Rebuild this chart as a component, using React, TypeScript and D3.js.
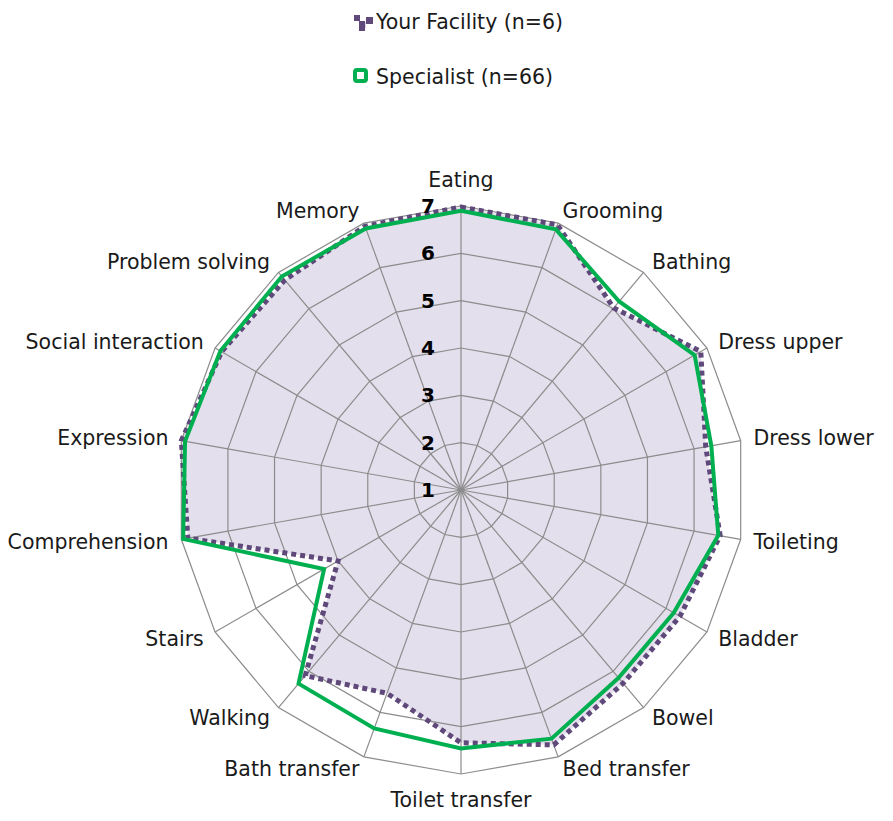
import React from 'react';
import * as d3 from 'd3';

const categories = [
  'Eating', 'Grooming', 'Bathing', 'Dress upper', 'Dress lower', 'Toileting',
  'Bladder', 'Bowel', 'Bed transfer', 'Toilet transfer', 'Bath transfer', 'Walking',
  'Stairs', 'Comprehension', 'Expression', 'Social interaction', 'Problem solving', 'Memory',
];
const facility = [6.98, 6.96, 6.02, 6.85, 6.25, 6.56, 6.34, 6.33, 6.73, 6.34, 5.57, 6.12, 4.0, 6.86, 7.0, 6.84, 6.79, 6.93];
const specialist = [6.9, 6.86, 6.2, 6.7, 6.37, 6.52, 6.19, 6.18, 6.59, 6.46, 6.36, 6.34, 4.34, 6.96, 6.92, 6.87, 6.89, 6.88];
const ticks = [1, 2, 3, 4, 5, 6, 7];
const seriesNames = ['Your Facility (n=6)', 'Specialist (n=66)'];

const W = 893;
const H = 821;
const cx = 461;
const cy = 490;
const R = 284;
const FONT = '"DejaVu Sans", "Open Sans", sans-serif';
const PURPLE = '#5f497a';
const GREEN = '#00b050';
const GRID = '#8c8c8c';
const FS = 20.5;

const App = () => {
  const r = d3.scaleLinear().domain([1, 7]).range([0, R]);
  const n = categories.length;
  const angle = (i: number) => (i * 2 * Math.PI) / n;

  const radial = d3
    .lineRadial<number>()
    .angle((_, i) => angle(i))
    .radius((d) => r(d))
    .curve(d3.curveLinearClosed);

  const ring = (v: number) => radial(categories.map(() => v)) || '';

  return (
    <div style={{ position: 'absolute', left: 0, top: 0 }}>
      <svg width={W} height={H} style={{ display: 'block' }} fontFamily={FONT}>
        {/* legend */}
        <g>
          <rect x={354} y={15} width={6} height={6} fill={PURPLE} />
          <rect x={360} y={22} width={6} height={6} fill="#d9d3e3" />
          <rect x={359} y={21} width={6} height={10} fill={PURPLE} />
          <rect x={366} y={17} width={7} height={7} fill={PURPLE} />
          <text x={376} y={22} fontSize={FS} dominantBaseline="central" fill="#1a1a1a">
            {seriesNames[0]}
          </text>
          <rect x={355} y={70} width={11} height={11} rx={2} fill="none" stroke={GREEN} strokeWidth={4} />
          <text x={376} y={77} fontSize={FS} dominantBaseline="central" fill="#1a1a1a">
            {seriesNames[1]}
          </text>
        </g>

        <g transform={`translate(${cx},${cy})`}>
          {/* facility area fill */}
          <path d={radial(facility) || ''} fill="#e4dfec" stroke="none" />
          {/* grid rings */}
          {ticks.slice(1).map((t) => (
            <path key={t} d={ring(t)} fill="none" stroke={GRID} strokeWidth={1.2} />
          ))}
          {/* spokes */}
          {categories.map((c, i) => (
            <line
              key={c}
              x1={0}
              y1={0}
              x2={r(7) * Math.sin(angle(i))}
              y2={-r(7) * Math.cos(angle(i))}
              stroke={GRID}
              strokeWidth={1.2}
            />
          ))}
          {/* series lines */}
          <path d={radial(facility) || ''} fill="none" stroke={PURPLE} strokeWidth={5} strokeDasharray="5 4" />
          <path d={radial(specialist) || ''} fill="none" stroke={GREEN} strokeWidth={4} strokeLinejoin="miter" />
        </g>

        {/* tick labels */}
        {ticks.map((t) => (
          <text
            key={t}
            x={cx - 26}
            y={cy - r(t)}
            fontSize={20}
            fontWeight="bold"
            textAnchor="end"
            dominantBaseline="central"
            fill="#000"
          >
            {t}
          </text>
        ))}

        {/* axis labels */}
        {categories.map((c, i) => {
          const a = angle(i);
          const s = Math.sin(a);
          const co = Math.cos(a);
          const lr = 297;
          const anchor = Math.abs(s) < 0.1 ? 'middle' : s > 0 ? 'start' : 'end';
          const dy = Math.abs(s) < 0.1 ? -co * 13 : 0;
          return (
            <text
              key={c}
              x={cx + lr * s}
              y={cy - lr * co + dy}
              fontSize={FS}
              textAnchor={anchor}
              dominantBaseline="central"
              fill="#1a1a1a"
            >
              {c}
            </text>
          );
        })}
      </svg>
    </div>
  );
};

export default App;
